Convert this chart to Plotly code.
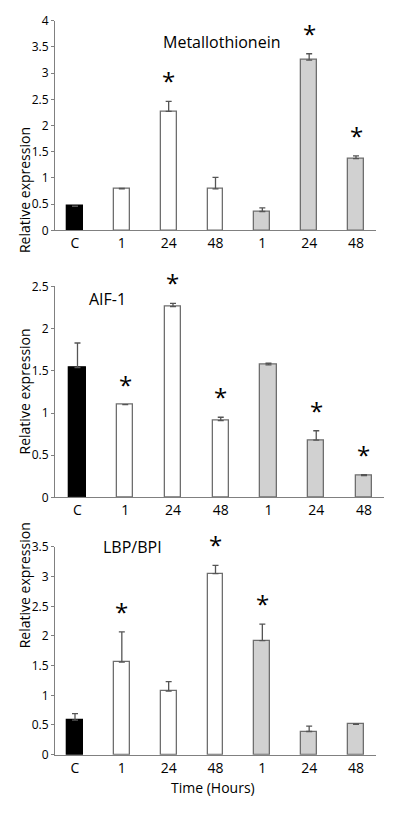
import plotly.graph_objects as go

# ---- data ----
tick_labels = ["C", "1", "24", "48", "1", "24", "48"]
bar_groups = ["control", "white", "white", "white", "gray", "gray", "gray"]

mt_values = [0.46, 0.79, 2.27, 0.79, 0.36, 3.25, 1.37]
mt_errors = [0.0, 0.01, 0.19, 0.22, 0.07, 0.12, 0.05]
mt_signif = [False, False, True, False, False, True, True]

aif_values = [1.54, 1.10, 2.26, 0.91, 1.57, 0.68, 0.26]
aif_errors = [0.29, 0.0, 0.04, 0.04, 0.02, 0.11, 0.01]
aif_signif = [False, True, True, True, False, True, True]

lbp_values = [0.58, 1.56, 1.07, 3.05, 1.92, 0.39, 0.51]
lbp_errors = [0.11, 0.51, 0.16, 0.14, 0.28, 0.09, 0.01]
lbp_signif = [False, True, False, True, True, False, False]

panels = [
    ("Metallothionein", mt_values, mt_errors, mt_signif, 4.0),
    ("AIF-1", aif_values, aif_errors, aif_signif, 2.5),
    ("LBP/BPI", lbp_values, lbp_errors, lbp_signif, 3.5),
]

# ---- styling ----
W, H = 394, 826
FONT = "Open Sans"
fill_map = {"control": "#000000", "white": "#ffffff", "gray": "#d1d1d1"}
line_map = {"control": "#000000", "white": "#6e6e6e", "gray": "#6e6e6e"}

# pixel boxes: (x0, x1, ytop, ybottom)
boxes = [(55, 376, 12, 226), (55, 384, 283.3, 498.7), (55, 376, 549.3, 761.3)]
xranges = [(-0.427, 6.427), (-0.471, 6.419), (-0.427, 6.427)]

fig = go.Figure()
xs = list(range(len(tick_labels)))

for i, (name, vals, errs, sig, ymax) in enumerate(panels):
    k = "" if i == 0 else str(i + 1)
    fig.add_trace(go.Bar(
        x=xs, y=vals, width=0.34,
        marker=dict(color=[fill_map[g] for g in bar_groups],
                    line=dict(color=[line_map[g] for g in bar_groups], width=1.3)),
        error_y=dict(type="data", symmetric=False, array=errs,
                     arrayminus=[0] * len(errs), color="#555555",
                     thickness=1.3, width=3),
        xaxis="x" + k, yaxis="y" + k, showlegend=False,
    ))
    x0, x1, yt, yb = boxes[i]
    fig.update_layout(**{
        "xaxis" + k: dict(domain=[x0 / W, x1 / W], range=list(xranges[i]),
                          tickmode="array", tickvals=xs, ticktext=tick_labels,
                          showline=True, linecolor="#808080", linewidth=1.2,
                          ticks="", showgrid=False, zeroline=False,
                          tickfont=dict(size=14, color="#000", family=FONT),
                          anchor="y" + k, fixedrange=True),
        "yaxis" + k: dict(domain=[1 - yb / H, 1 - yt / H], range=[0, ymax],
                          dtick=0.5, showline=True, linecolor="#808080",
                          linewidth=1.2, ticks="outside", ticklen=3,
                          tickcolor="#808080", showgrid=False, zeroline=False,
                          tickfont=dict(size=12, color="#000", family=FONT),
                          anchor="x" + k, fixedrange=True),
    })
    # asterisks
    for j, s in enumerate(sig):
        if s:
            fig.add_annotation(x=j, y=vals[j] + errs[j], xref="x" + k, yref="y" + k,
                               text="*", showarrow=False, yanchor="bottom",
                               yshift=2, font=dict(size=24, color="#000", family=FONT))
    # y title
    fig.add_annotation(x=13 / W, y=1 - ((yt + yb) / 2) / H, xref="paper", yref="paper",
                       text="Relative expression", textangle=-90, showarrow=False,
                       font=dict(size=14, color="#000", family=FONT))

# panel titles
fig.add_annotation(x=222 / W, y=1 - 20 / H, xref="paper", yref="paper",
                   text="Metallothionein", showarrow=False, xanchor="center",
                   font=dict(size=16, color="#000", family=FONT))
fig.add_annotation(x=87 / W, y=1 - 296 / H, xref="paper", yref="paper",
                   text="AIF-1", showarrow=False, xanchor="left",
                   font=dict(size=16, color="#000", family=FONT))
fig.add_annotation(x=101 / W, y=1 - 563 / H, xref="paper", yref="paper",
                   text="LBP/BPI", showarrow=False, xanchor="left",
                   font=dict(size=16, color="#000", family=FONT))
fig.add_annotation(x=213 / W, y=1 - 807 / H, xref="paper", yref="paper",
                   text="Time (Hours)", showarrow=False, xanchor="center",
                   font=dict(size=14, color="#000", family=FONT))

fig.update_layout(width=W, height=H, margin=dict(l=0, r=0, t=0, b=0),
                  paper_bgcolor="white", plot_bgcolor="white", bargap=0)

fig.write_html("out.html", config={"displayModeBar": False},
               post_script="document.body.style.margin='0';document.body.style.overflow='hidden';")
